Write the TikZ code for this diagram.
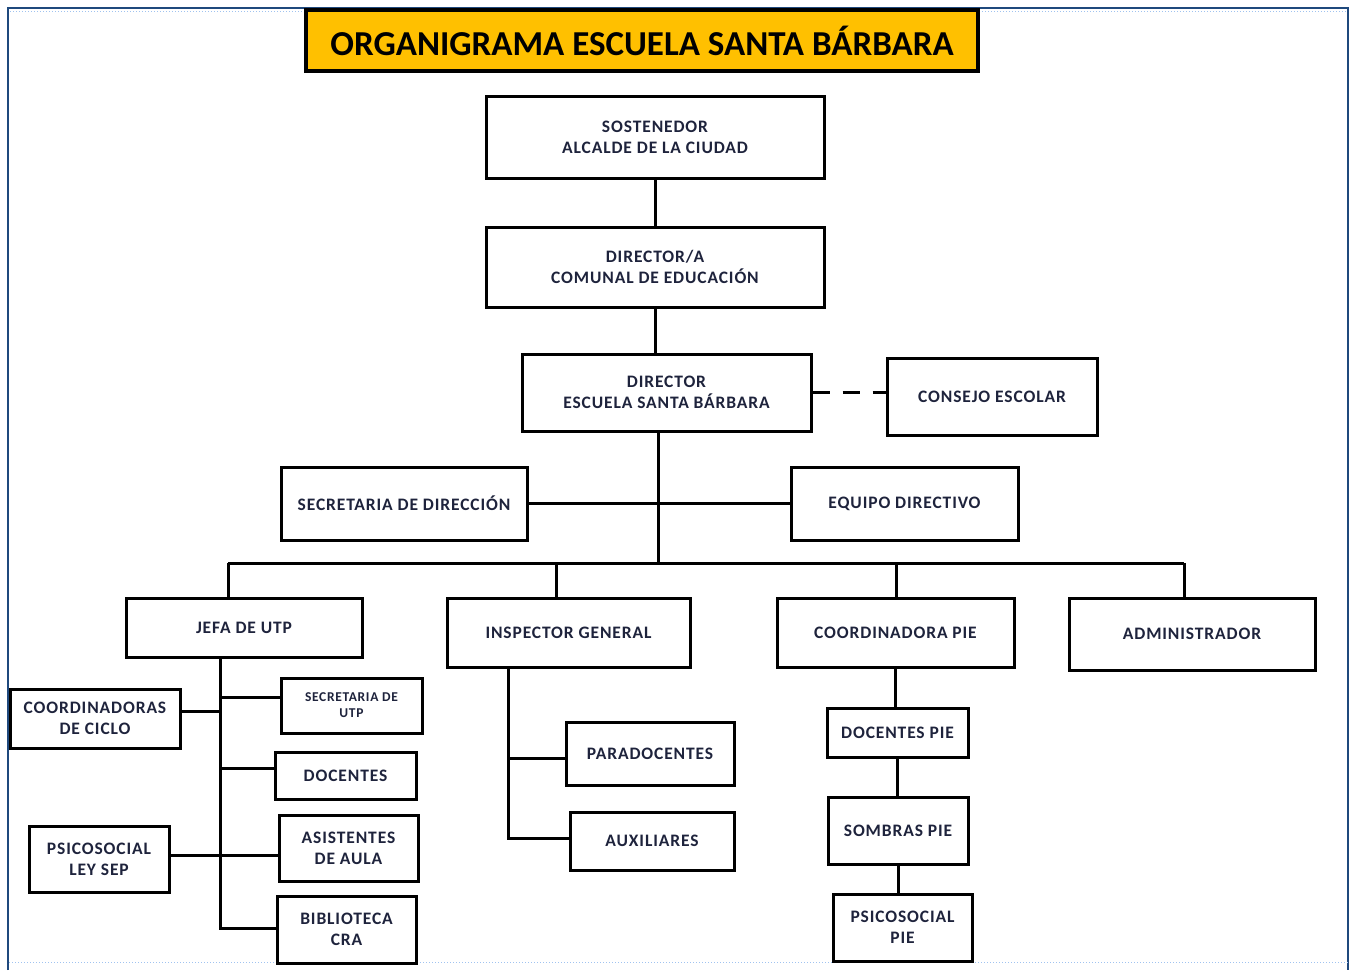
\documentclass[tikz,border=0pt]{standalone}
\usepackage{fontspec}
\setmainfont{Carlito}
\newfontfamily\boxfont{Carlito}[LetterSpace=5]
\definecolor{frameblue}{RGB}{31,73,125}
\definecolor{dotblue}{RGB}{160,195,240}
\definecolor{titlefill}{RGB}{255,192,0}
\definecolor{txt}{RGB}{30,35,60}
\begin{document}
\begin{tikzpicture}[x=1pt,y=-1pt,
  box/.style={draw=black, line width=3pt, fill=white, align=center, text=txt,
    font=\boxfont\fontsize{17.5}{21}\selectfont\bfseries, inner sep=0pt},
  smallbox/.style={box, font=\boxfont\fontsize{13.5}{16}\selectfont\bfseries},
  titlebox/.style={draw=black, line width=3.5pt, fill=titlefill, text=black,
    font=\fontsize{35}{40}\selectfont\bfseries, inner sep=0pt},
  link/.style={draw=black, line width=3pt},
  dashlink/.style={link, dash pattern=on 17pt off 13pt}]
\useasboundingbox (0,0) rectangle (1349,970);
% frame
\draw[frameblue, line width=2pt] (8,970) -- (8,8) -- (1348,8) -- (1348,970);
\draw[dotblue, line width=1pt, dotted] (10,11) -- (1346,11);
\draw[dotblue, line width=1pt, dotted] (9,962) -- (1349,962);
% title
\node[titlebox, minimum width=672pt, minimum height=61pt] (title) at (642,40.5) {ORGANIGRAMA ESCUELA SANTA BÁRBARA};
% nodes
\node[box, minimum width=338pt, minimum height=82pt] (sost) at (655,137) {SOSTENEDOR\\ALCALDE DE LA CIUDAD};
\node[box, minimum width=338pt, minimum height=80pt] (dcom) at (655,267) {DIRECTOR/A\\COMUNAL DE EDUCACIÓN};
\node[box, minimum width=289pt, minimum height=77pt] (dir) at (666.5,392.5) {DIRECTOR\\ESCUELA SANTA BÁRBARA};
\node[box, minimum width=210pt, minimum height=77pt] (cons) at (992,396.5) {CONSEJO ESCOLAR};
\node[box, minimum width=246pt, minimum height=73pt] (secd) at (404,503.5) {SECRETARIA DE DIRECCIÓN};
\node[box, minimum width=227pt, minimum height=73pt] (equi) at (904.5,503.5) {EQUIPO DIRECTIVO};
\node[box, minimum width=236pt, minimum height=59pt] (jefa) at (244,627.5) {JEFA DE UTP};
\node[box, minimum width=243pt, minimum height=69pt] (insp) at (568.5,632.5) {INSPECTOR GENERAL};
\node[box, minimum width=237pt, minimum height=69pt] (cpie) at (895.5,632.5) {COORDINADORA PIE};
\node[box, minimum width=246pt, minimum height=72pt] (admi) at (1192,634) {ADMINISTRADOR};
\node[box, minimum width=170pt, minimum height=59pt] (cicl) at (95,718.5) {COORDINADORAS\\DE CICLO};
\node[smallbox, minimum width=141pt, minimum height=55pt] (sutp) at (351.5,705.5) {SECRETARIA DE\\UTP};
\node[box, minimum width=141pt, minimum height=47pt] (doce) at (345.5,775.5) {DOCENTES};
\node[box, minimum width=139pt, minimum height=66pt] (asis) at (348.5,848) {ASISTENTES\\DE AULA};
\node[box, minimum width=140pt, minimum height=66pt] (psep) at (99,859) {PSICOSOCIAL\\LEY SEP};
\node[box, minimum width=139pt, minimum height=67pt] (bibl) at (346.5,929.5) {BIBLIOTECA\\CRA};
\node[box, minimum width=168pt, minimum height=63pt] (para) at (650,753.5) {PARADOCENTES};
\node[box, minimum width=164pt, minimum height=58pt] (auxi) at (652,841) {AUXILIARES};
\node[box, minimum width=141pt, minimum height=49pt] (dpie) at (897.5,732.5) {DOCENTES PIE};
\node[box, minimum width=140pt, minimum height=67pt] (somb) at (898,830.5) {SOMBRAS PIE};
\node[box, minimum width=139pt, minimum height=67pt] (ppie) at (902.5,927.5) {PSICOSOCIAL\\PIE};
% junction coordinates
\coordinate (hub) at (658,563);
\coordinate (busL) at (228,563);
\coordinate (busR) at (1184,563);
\coordinate (utp) at (220,928);
\coordinate (ins) at (508,838);
% connectors
\draw[link] (sost.south) -- (sost.south |- dcom.north);
\draw[link] (dcom.south) -- (dcom.south |- dir.north);
\draw[dashlink] (dir.east) -- (dir.east -| cons.west);
\draw[link] (hub |- dir.south) -- (hub);
\draw[link] (secd.east) -- (equi.west);
\draw[link] (busL) -- (busR);
\draw[link] (busL) -- (busL |- jefa.north);
\draw[link] (556,563) -- (556,563 |- insp.north);
\draw[link] (896,563) -- (896,563 |- cpie.north);
\draw[link] (busR) -- (busR |- admi.north);
% UTP branch
\draw[link] (utp |- jefa.south) -- (utp) -- (utp -| bibl.west);
\draw[link] (cicl.east |- 220,711) -- (220,711);
\draw[link] (220,697) -- (sutp.west |- 220,697);
\draw[link] (220,768) -- (doce.west |- 220,768);
\draw[link] (psep.east |- 220,855) -- (asis.west |- 220,855);
% Inspector branch
\draw[link] (ins |- insp.south) -- (ins) -- (ins -| auxi.west);
\draw[link] (508,758) -- (para.west |- 508,758);
% PIE branch
\draw[link] (cpie.south) -- (cpie.south |- dpie.north);
\draw[link] (dpie.south) -- (dpie.south |- somb.north);
\draw[link] (somb.south) -- (somb.south |- ppie.north);
\end{tikzpicture}
\end{document}
